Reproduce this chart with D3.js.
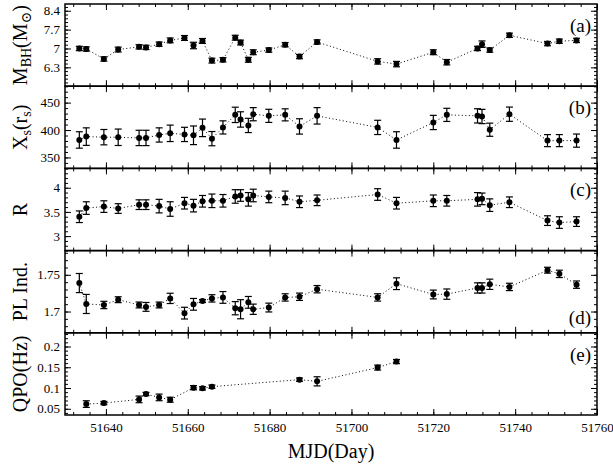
<!DOCTYPE html>
<html>
<head>
<meta charset="utf-8">
<script src="https://cdn.jsdelivr.net/npm/d3@7"></script>
<style>
  body { margin: 0; background: #fff; }
  .tick line { stroke: #000; stroke-width: 1; }
</style>
</head>
<body>
<svg width="613" height="465"></svg>
<script>
// observation days (MJD)
const mjd = [51633.5, 51635.2, 51639.5, 51643.0, 51648.1, 51649.8, 51653.0, 51655.7,
  51659.2, 51661.4, 51663.6, 51665.9, 51668.6, 51671.6, 51672.9, 51674.8, 51676.0,
  51679.8, 51683.8, 51687.3, 51691.6, 51706.4, 51711.0, 51720.0, 51723.3, 51730.8,
  51731.9, 51733.8, 51738.6, 51747.9, 51750.8, 51755.0];

const mbh = [7.00, 6.98, 6.61, 6.96, 7.06, 7.04, 7.16, 7.30, 7.39, 7.11, 7.28, 6.55,
  6.58, 7.40, 7.22, 6.58, 6.86, 6.94, 7.14, 6.70, 7.24, 6.52, 6.42, 6.86, 6.49, 7.00,
  7.16, 6.94, 7.49, 7.18, 7.27, 7.30];
const mbhErr = [0.08, 0.08, 0.08, 0.09, 0.08, 0.08, 0.08, 0.09, 0.09, 0.12, 0.09, 0.09,
  0.08, 0.09, 0.09, 0.09, 0.09, 0.08, 0.08, 0.08, 0.08, 0.1, 0.1, 0.09, 0.1, 0.08,
  0.12, 0.08, 0.08, 0.08, 0.08, 0.08];

const xs = [381.9, 388, 387, 386.8, 385.6, 385.6, 391, 394, 392, 390.4, 404, 384.3,
  404.8, 427.7, 419.3, 408.4, 428.9, 425.9, 427.7, 406.6, 425.9, 404.8, 381.9, 413.8,
  427.7, 425.9, 424.7, 400.6, 428.9, 380.7, 380.7, 380.7];
const xsErr = [15, 16, 14, 15, 14, 14, 13, 15, 13, 17, 16, 13, 12, 14, 14, 13, 12, 12,
  11, 14, 15, 13, 15, 13, 12, 13, 13, 12, 13, 11, 11, 12];

const rVal = [3.40, 3.58, 3.61, 3.57, 3.65, 3.65, 3.62, 3.56, 3.68, 3.63, 3.72, 3.73,
  3.73, 3.82, 3.84, 3.76, 3.84, 3.81, 3.79, 3.71, 3.74, 3.86, 3.68, 3.73, 3.73, 3.76,
  3.77, 3.64, 3.70, 3.32, 3.28, 3.30];
const rErr = [0.12, 0.13, 0.12, 0.1, 0.1, 0.1, 0.14, 0.15, 0.12, 0.13, 0.12, 0.14,
  0.13, 0.14, 0.12, 0.14, 0.13, 0.12, 0.14, 0.12, 0.11, 0.12, 0.12, 0.12, 0.11, 0.14,
  0.12, 0.13, 0.11, 0.1, 0.12, 0.1];

const pl = [1.7388, 1.7103, 1.7089, 1.7161, 1.7089, 1.7063, 1.7089, 1.7179, 1.6978,
  1.7098, 1.7143, 1.7179, 1.7192, 1.7045, 1.7031, 1.7125, 1.7031, 1.7054, 1.7192,
  1.7201, 1.7304, 1.7192, 1.7379, 1.7232, 1.7237, 1.7321, 1.7321, 1.7371, 1.7335,
  1.7563, 1.7513, 1.7366];
const plErr = [0.013, 0.013, 0.005, 0.004, 0.004, 0.006, 0.004, 0.007, 0.008, 0.008,
  0.002, 0.005, 0.008, 0.009, 0.013, 0.008, 0.007, 0.006, 0.005, 0.005, 0.005, 0.005,
  0.008, 0.006, 0.007, 0.007, 0.007, 0.007, 0.005, 0.004, 0.005, 0.005];

const qpoMjd = [51635.2, 51639.5, 51648.1, 51649.8, 51653.0, 51655.7, 51661.4, 51663.6,
  51665.9, 51687.3, 51691.6, 51706.4, 51711.0];
const qpo = [0.0613, 0.0637, 0.0726, 0.0855, 0.0774, 0.0718, 0.1008, 0.0992, 0.1032,
  0.1202, 0.1161, 0.1492, 0.1637];
const qpoErr = [0.008, 0.004, 0.008, 0.004, 0.008, 0.006, 0.005, 0.004, 0.004, 0.004,
  0.011, 0.006, 0.005];

const xTicks = [51640, 51660, 51680, 51700, 51720, 51740, 51760];

const panels = [
  { x: mjd, y: mbh, e: mbhErr, domain: [5.6, 8.65], ticks: [6.3, 7, 7.7, 8.4], minor: 0.14,
    fmt: d3.format('.1~f'), label: 'a', tag: '(a)', tagBottom: false },
  { x: mjd, y: xs, e: xsErr, domain: [330, 480], ticks: [350, 400, 450], minor: 10,
    fmt: d3.format('d'), label: 'b', tag: '(b)', tagBottom: false },
  { x: mjd, y: rVal, e: rErr, domain: [2.7, 4.4], ticks: [3, 3.5, 4], minor: 0.1,
    fmt: d3.format('.1~f'), label: 'c', tag: '(c)', tagBottom: false },
  { x: mjd, y: pl, e: plErr, domain: [1.671, 1.783], ticks: [1.7, 1.75], minor: 0.01,
    fmt: d3.format('.2~f'), label: 'd', tag: '(d)', tagBottom: true },
  { x: qpoMjd, y: qpo, e: qpoErr, domain: [0.035, 0.233], ticks: [0.05, 0.1, 0.15, 0.2], minor: 0.01,
    fmt: d3.format('.2~f'), label: 'e', tag: '(e)', tagBottom: false }
];

const serif = "'Liberation Serif', 'Times New Roman', Times, 'DejaVu Serif', serif";

const svg = d3.select('svg').attr('font-family', serif);
const left = 65, right = 597, top0 = 4, panelH = 82.2;

const xScale = d3.scaleLinear().domain([51630, 51760]).range([left, right]);
const xMinor = d3.range(51632, 51760, 4);

const range = (a, b, step) => {
  const out = [];
  const n0 = Math.ceil(a / step - 1e-9), n1 = Math.floor(b / step + 1e-9);
  for (let i = n0; i <= n1; i++) out.push(+(i * step).toFixed(6));
  return out;
};

panels.forEach((p, i) => {
  const y0 = top0 + i * panelH, y1 = y0 + panelH;
  const yScale = d3.scaleLinear().domain(p.domain).range([y1, y0]);
  const g = svg.append('g');

  // ticks on all sides, pointing inward
  const addAxis = (axis, tx, ty) => {
    const a = g.append('g').attr('transform', `translate(${tx},${ty})`).call(axis);
    a.select('.domain').remove();
    a.attr('font-family', serif).attr('font-size', 13);
    a.selectAll('text').style('font-family', serif).attr('fill', '#000');
    return a;
  };
  const yMinor = range(p.domain[0], p.domain[1], p.minor);
  addAxis(d3.axisLeft(yScale).tickValues(yMinor).tickSize(-3).tickFormat(''), left, 0);
  addAxis(d3.axisRight(yScale).tickValues(yMinor).tickSize(-3).tickFormat(''), right, 0);
  addAxis(d3.axisLeft(yScale).tickValues(p.ticks).tickSize(-6).tickPadding(5).tickFormat(p.fmt), left, 0);
  addAxis(d3.axisRight(yScale).tickValues(p.ticks).tickSize(-6).tickFormat(''), right, 0);

  addAxis(d3.axisTop(xScale).tickValues(xMinor).tickSize(-3).tickFormat(''), 0, y0);
  addAxis(d3.axisTop(xScale).tickValues(xTicks).tickSize(-6).tickFormat(''), 0, y0);
  addAxis(d3.axisBottom(xScale).tickValues(xMinor).tickSize(-3).tickFormat(''), 0, y1);
  addAxis(d3.axisBottom(xScale).tickValues(xTicks).tickSize(-6).tickPadding(8)
    .tickFormat(i === panels.length - 1 ? d3.format('d') : ''), 0, y1);

  g.append('rect')
    .attr('x', left).attr('y', y0)
    .attr('width', right - left).attr('height', panelH)
    .attr('fill', 'none').attr('stroke', '#000').attr('stroke-width', 1.5);

  const pts = p.x.map((d, k) => ({ x: d, y: p.y[k], e: p.e[k] }));

  g.append('path')
    .datum(pts)
    .attr('fill', 'none')
    .attr('stroke', '#000')
    .attr('stroke-width', 1)
    .attr('stroke-dasharray', '1,2.5')
    .attr('d', d3.line().x(d => xScale(d.x)).y(d => yScale(d.y)));

  const eb = g.selectAll('.eb').data(pts).enter().append('g').attr('class', 'eb')
    .attr('stroke', '#000').attr('stroke-width', 1.2);
  eb.append('line')
    .attr('x1', d => xScale(d.x)).attr('x2', d => xScale(d.x))
    .attr('y1', d => yScale(d.y - d.e)).attr('y2', d => yScale(d.y + d.e));
  eb.append('line')
    .attr('x1', d => xScale(d.x) - 3.5).attr('x2', d => xScale(d.x) + 3.5)
    .attr('y1', d => yScale(d.y - d.e)).attr('y2', d => yScale(d.y - d.e));
  eb.append('line')
    .attr('x1', d => xScale(d.x) - 3.5).attr('x2', d => xScale(d.x) + 3.5)
    .attr('y1', d => yScale(d.y + d.e)).attr('y2', d => yScale(d.y + d.e));

  g.selectAll('circle').data(pts).enter().append('circle')
    .attr('cx', d => xScale(d.x))
    .attr('cy', d => yScale(d.y))
    .attr('r', 3)
    .attr('fill', '#000');

  g.append('text')
    .attr('x', 591).attr('y', p.tagBottom ? y1 - 9 : y0 + 28)
    .attr('text-anchor', 'end')
    .style('font-family', serif)
    .style('font-size', '19px')
    .text(p.tag);

  // y axis label
  const lab = g.append('text')
    .attr('transform', `translate(27,${(y0 + y1) / 2}) rotate(-90)`)
    .attr('text-anchor', 'middle')
    .style('font-family', serif)
    .style('font-size', '20px');
  if (p.label === 'a') {
    lab.append('tspan').text('M');
    lab.append('tspan').attr('baseline-shift', '-25%').style('font-size', '14px').text('BH');
    lab.append('tspan').text('(M');
    lab.append('tspan').attr('baseline-shift', '-25%').style('font-size', '14px').text('\u2299');
    lab.append('tspan').text(')');
  } else if (p.label === 'b') {
    lab.append('tspan').text('X');
    lab.append('tspan').attr('baseline-shift', '-25%').style('font-size', '14px').text('s');
    lab.append('tspan').text('(r');
    lab.append('tspan').attr('baseline-shift', '-25%').style('font-size', '14px').text('s');
    lab.append('tspan').text(')');
  } else if (p.label === 'c') {
    lab.text('R');
  } else if (p.label === 'd') {
    lab.text('PL Ind.');
  } else {
    lab.text('QPO(Hz)');
  }
});

svg.append('text')
  .attr('x', (left + right) / 2)
  .attr('y', 458)
  .attr('text-anchor', 'middle')
  .style('font-family', serif)
  .style('font-size', '20px')
  .text('MJD(Day)');
</script>
</body>
</html>
